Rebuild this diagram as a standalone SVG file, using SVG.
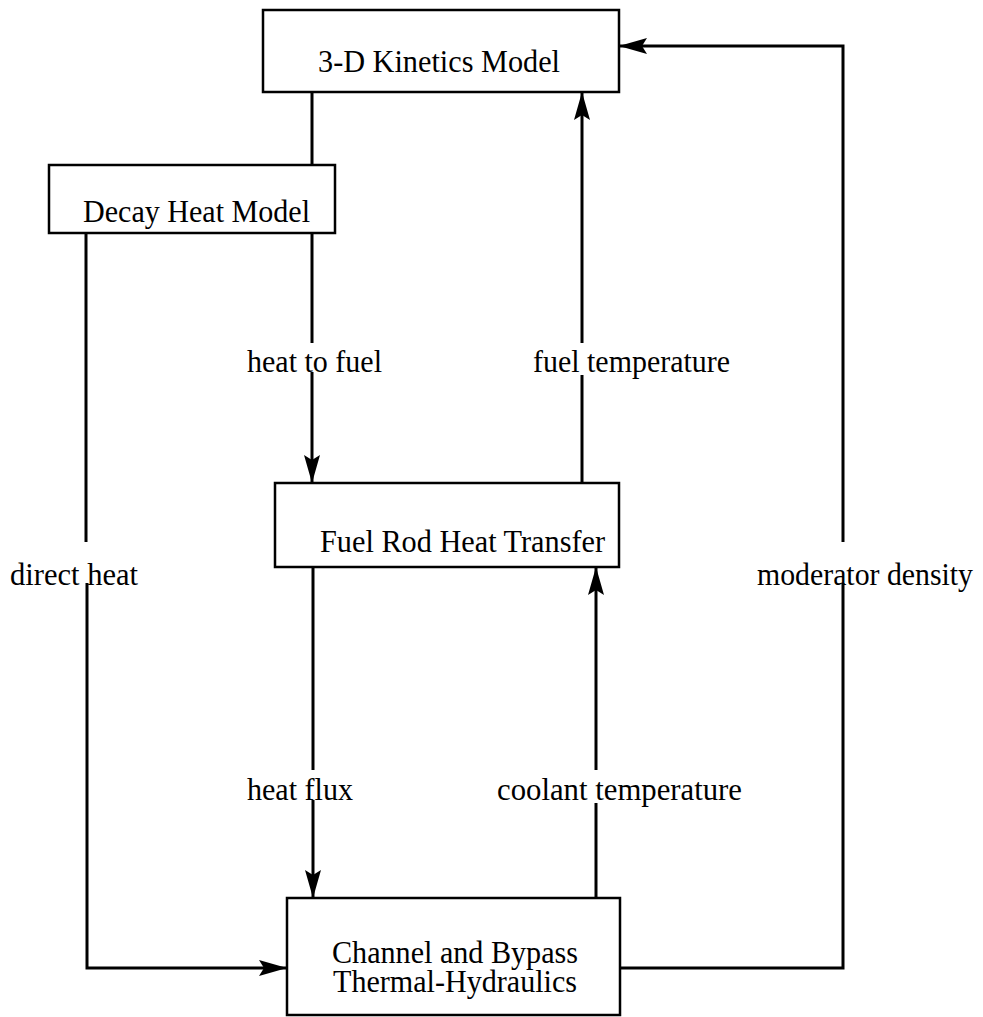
<svg xmlns="http://www.w3.org/2000/svg" width="983" height="1017" viewBox="0 0 983 1017">
<style>
.box{fill:#fff;stroke:#000;stroke-width:2.5}
.t{font-family:"Liberation Serif","Times New Roman",serif;font-size:32px;fill:#000}
.c{fill:none;stroke:#000;stroke-width:3}
</style>
<defs>
<marker id="ah" markerWidth="28" markerHeight="16" refX="28" refY="8" orient="auto" markerUnits="userSpaceOnUse">
<path d="M0,0 L28,8 L0,16 L5,8 Z" fill="#000"/>
</marker>
</defs>
<rect width="983" height="1017" fill="#fff"/>
<g id="connectors">
<path class="c" d="M312,92 V165"/>
<path class="c" d="M312,233 V343"/>
<path class="c" d="M312,372 V483" marker-end="url(#ah)"/>
<path class="c" d="M582,483 V375"/>
<path class="c" d="M582,343 V92" marker-end="url(#ah)"/>
<path class="c" d="M86,233 V542"/>
<path class="c" d="M87,583 V968 H287" marker-end="url(#ah)"/>
<path class="c" d="M620,968 H843 V583"/>
<path class="c" d="M843,542 V46 H619" marker-end="url(#ah)"/>
<path class="c" d="M313,567 V770"/>
<path class="c" d="M313,800 V898" marker-end="url(#ah)"/>
<path class="c" d="M596,898 V803"/>
<path class="c" d="M596,770 V567" marker-end="url(#ah)"/>
</g>
<g id="kinetics">
<rect class="box" x="263" y="10" width="356" height="82"/>
<text class="t" x="318" y="72" textLength="242" lengthAdjust="spacingAndGlyphs">3-D Kinetics Model</text>
</g>
<g id="decay">
<rect class="box" x="49" y="165" width="286" height="68"/>
<text class="t" x="83" y="222" textLength="227" lengthAdjust="spacingAndGlyphs">Decay Heat Model</text>
</g>
<g id="fuelrod">
<rect class="box" x="275" y="483" width="344" height="84"/>
<text class="t" x="320" y="552" textLength="285" lengthAdjust="spacingAndGlyphs">Fuel Rod Heat Transfer</text>
</g>
<g id="channel">
<rect class="box" x="287" y="898" width="333" height="117"/>
<text class="t" x="332" y="963" textLength="246" lengthAdjust="spacingAndGlyphs">Channel and Bypass</text>
<text class="t" x="333" y="992" textLength="244" lengthAdjust="spacingAndGlyphs">Thermal-Hydraulics</text>
</g>
<g id="labels">
<text class="t" x="247" y="372" textLength="135" lengthAdjust="spacingAndGlyphs">heat to fuel</text>
<text class="t" x="533" y="372" textLength="197" lengthAdjust="spacingAndGlyphs">fuel temperature</text>
<text class="t" x="10" y="585" textLength="128" lengthAdjust="spacingAndGlyphs">direct heat</text>
<text class="t" x="757" y="585" textLength="216" lengthAdjust="spacingAndGlyphs">moderator density</text>
<text class="t" x="247" y="800" textLength="106" lengthAdjust="spacingAndGlyphs">heat flux</text>
<text class="t" x="497" y="800" textLength="245" lengthAdjust="spacingAndGlyphs">coolant temperature</text>
</g>
</svg>
